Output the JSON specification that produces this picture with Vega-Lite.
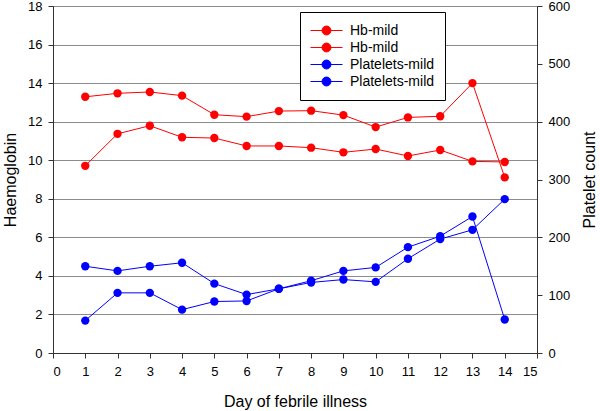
{
  "$schema": "https://vega.github.io/schema/vega-lite/v6.json",
  "width": 484,
  "height": 347,
  "autosize": {"type": "none"},
  "padding": {"left": 53, "top": 6, "right": 63, "bottom": 58},
  "background": "white",
  "config": {
    "font": "Liberation Sans",
    "view": {"stroke": "#555", "strokeWidth": 1},
    "axis": {"labelFont": "Liberation Sans", "titleFont": "Liberation Sans", "labelFontSize": 13, "titleFontSize": 16, "titleFontWeight": "normal", "labelColor": "black", "titleColor": "black", "domainColor": "#333", "tickColor": "#333", "tickSize": 5}
  },
  "data": {"values": [
    {"day": 1, "series": "H1", "hb": 13.29}, {"day": 2, "series": "H1", "hb": 13.47}, {"day": 3, "series": "H1", "hb": 13.54}, {"day": 4, "series": "H1", "hb": 13.35}, {"day": 5, "series": "H1", "hb": 12.36}, {"day": 6, "series": "H1", "hb": 12.26}, {"day": 7, "series": "H1", "hb": 12.55}, {"day": 8, "series": "H1", "hb": 12.57}, {"day": 9, "series": "H1", "hb": 12.34}, {"day": 10, "series": "H1", "hb": 11.72}, {"day": 11, "series": "H1", "hb": 12.22}, {"day": 12, "series": "H1", "hb": 12.28}, {"day": 13, "series": "H1", "hb": 14.0}, {"day": 14, "series": "H1", "hb": 9.11},
    {"day": 1, "series": "H2", "hb": 9.71}, {"day": 2, "series": "H2", "hb": 11.37}, {"day": 3, "series": "H2", "hb": 11.79}, {"day": 4, "series": "H2", "hb": 11.19}, {"day": 5, "series": "H2", "hb": 11.15}, {"day": 6, "series": "H2", "hb": 10.74}, {"day": 7, "series": "H2", "hb": 10.74}, {"day": 8, "series": "H2", "hb": 10.65}, {"day": 9, "series": "H2", "hb": 10.41}, {"day": 10, "series": "H2", "hb": 10.58}, {"day": 11, "series": "H2", "hb": 10.22}, {"day": 12, "series": "H2", "hb": 10.53}, {"day": 13, "series": "H2", "hb": 9.94}, {"day": 14, "series": "H2", "hb": 9.91},
    {"day": 1, "series": "P1", "plt": 150}, {"day": 2, "series": "P1", "plt": 142}, {"day": 3, "series": "P1", "plt": 150}, {"day": 4, "series": "P1", "plt": 156}, {"day": 5, "series": "P1", "plt": 120}, {"day": 6, "series": "P1", "plt": 101}, {"day": 7, "series": "P1", "plt": 111}, {"day": 8, "series": "P1", "plt": 125}, {"day": 9, "series": "P1", "plt": 142}, {"day": 10, "series": "P1", "plt": 148}, {"day": 11, "series": "P1", "plt": 183}, {"day": 12, "series": "P1", "plt": 202}, {"day": 13, "series": "P1", "plt": 236}, {"day": 14, "series": "P1", "plt": 58},
    {"day": 1, "series": "P2", "plt": 56}, {"day": 2, "series": "P2", "plt": 104}, {"day": 3, "series": "P2", "plt": 104}, {"day": 4, "series": "P2", "plt": 75}, {"day": 5, "series": "P2", "plt": 89}, {"day": 6, "series": "P2", "plt": 90}, {"day": 7, "series": "P2", "plt": 111}, {"day": 8, "series": "P2", "plt": 122}, {"day": 9, "series": "P2", "plt": 127}, {"day": 10, "series": "P2", "plt": 123}, {"day": 11, "series": "P2", "plt": 163}, {"day": 12, "series": "P2", "plt": 197}, {"day": 13, "series": "P2", "plt": 213}, {"day": 14, "series": "P2", "plt": 266}
  ]},
  "encoding": {
    "x": {"field": "day", "type": "quantitative", "scale": {"domain": [0, 15], "nice": false},
      "axis": {"values": [0,1,2,3,4,5,6,7,8,9,10,11,12,13,14,15], "grid": false, "title": "Day of febrile illness", "titlePadding": 15, "labelPadding": 7}},
    "color": {"field": "series", "type": "nominal",
      "scale": {"domain": ["H1", "H2", "P1", "P2"], "range": ["#ff0000", "#ff0000", "#0000ff", "#0000ff"]},
      "legend": {
        "orient": "none", "legendX": 247, "legendY": 6, "title": null,
        "labelExpr": "datum.value[0] == 'H' ? 'Hb-mild' : 'Platelets-mild'",
        "symbolType": "M-1,0L1,0M-0.28,0A0.28,0.28,0,1,0,0.28,0A0.28,0.28,0,1,0,-0.28,0Z",
        "symbolSize": 1024, "symbolStrokeWidth": 1, "symbolOpacity": 1,
        "labelFontSize": 14, "labelFont": "Liberation Sans", "labelColor": "black",
        "strokeColor": "black", "fillColor": "white", "padding": 10, "rowPadding": 0, "labelOffset": 7,
        "clipHeight": 17,
        "cornerRadius": 0
      }}
  },
  "layer": [
    {
      "transform": [{"filter": "datum.hb != null"}],
      "mark": {"type": "line", "strokeWidth": 1, "point": {"filled": true, "size": 70, "opacity": 1}},
      "encoding": {
        "y": {"field": "hb", "type": "quantitative", "scale": {"domain": [0, 18], "nice": false},
          "axis": {"values": [0,2,4,6,8,10,12,14,16,18], "grid": true, "gridColor": "#8c8c8c", "gridWidth": 1, "title": "Haemoglobin", "titlePadding": 9, "labelPadding": 6}}
      }
    },
    {
      "transform": [{"filter": "datum.plt != null"}],
      "mark": {"type": "line", "strokeWidth": 1, "point": {"filled": true, "size": 70, "opacity": 1}},
      "encoding": {
        "y": {"field": "plt", "type": "quantitative", "scale": {"domain": [0, 600], "nice": false},
          "axis": {"orient": "right", "values": [0,100,200,300,400,500,600], "grid": false, "title": "Platelet count", "titleAngle": 270, "titlePadding": 28, "labelPadding": 6}}
      }
    }
  ],
  "resolve": {"scale": {"y": "independent"}}
}
